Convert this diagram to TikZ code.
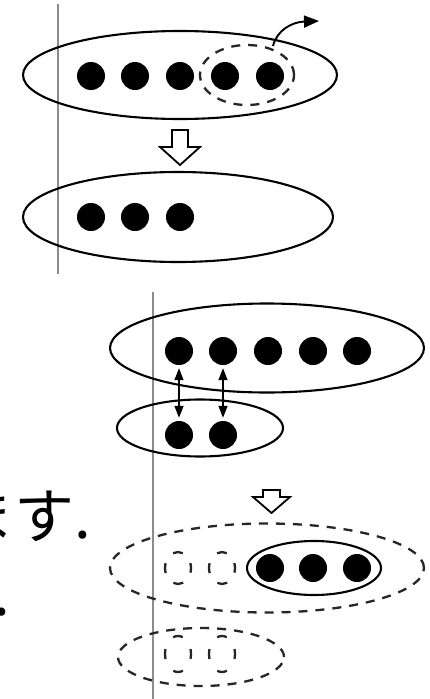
\documentclass[tikz,border=0pt]{standalone}
\usepackage{fontspec}
\newfontfamily\jpfont{Noto Sans CJK JP}
\usetikzlibrary{shapes.geometric,arrows.meta}
\tikzset{
  ell/.style={ellipse, draw=black, line width=2.1pt, inner sep=0pt},
  dashell/.style={ellipse, draw=black!85, line width=2.3pt, inner sep=0pt, dash pattern=on 9pt off 8pt},
  smallell/.style={ellipse, draw=black!85, line width=2.3pt, inner sep=0pt, dash pattern=on 10pt off 12.85pt, dash phase=5pt, minimum width=26pt, minimum height=32pt},
  smallellb/.style={smallell, minimum height=36pt, dash pattern=on 10pt off 14.5pt},
  dot/.style={circle, fill=black, inner sep=0pt, minimum size=28pt},
  hollow/.style={draw=black, line width=1.8pt, fill=white, line join=miter},
  rule/.style={draw=black!45, line width=1.8pt},
  dblarrow/.style={draw=black, line width=1.4pt, {Triangle[length=12pt,width=9pt]}-{Triangle[length=12pt,width=9pt]}, shorten <=3pt, shorten >=3pt},
  jptext/.style={font=\jpfont\fontsize{60}{72}\selectfont, inner sep=0pt, anchor=base west}
}
\begin{document}
\begin{tikzpicture}[x=1pt,y=-1pt]
\useasboundingbox (0,0) rectangle (430,699);
\fill[white] (0,0) rectangle (430,699);

% ---------- top panel ----------
\draw[rule] (58,4) -- (58,274);

\node[ell, minimum width=314pt, minimum height=88pt] (E1) at (180,75) {};
\node[dot] (a1) at (91,76) {};
\node[dot] (a2) at (135,76) {};
\node[dot] (a3) at (180,76) {};
\node[dot] (a4) at (225,76) {};
\node[dot] (a5) at (270,76) {};
\node[dashell, minimum width=94pt, minimum height=60pt] (D1) at (247,75) {};
\coordinate (out) at (319,21);
\draw[line width=1.9pt, -{Triangle[length=15pt,width=12pt]}] (273,46) .. controls (277,30) and (292,22) .. (out);

\draw[hollow] (172,130) -- (188,130) -- (188,147) -- (200,147) -- (180,165) -- (160,147) -- (172,147) -- cycle;

\node[ell, minimum width=310pt, minimum height=90pt] (E2) at (178,217) {};
\node[dot] (b1) at (91,217) {};
\node[dot] (b2) at (135,217) {};
\node[dot] (b3) at (180,217) {};

% ---------- bottom panel ----------
\draw[rule] (153,292) -- (153,699);

\node[ell, minimum width=314pt, minimum height=89pt] (E3) at (267,348) {};
\node[dot] (c1) at (179,351) {};
\node[dot] (c2) at (223,351) {};
\node[dot] (c3) at (268,351) {};
\node[dot] (c4) at (313,351) {};
\node[dot] (c5) at (357,351) {};

\node[ell, minimum width=166pt, minimum height=57pt] (E4) at (200,428) {};
\node[dot] (d1) at (179,435) {};
\node[dot] (d2) at (223,435) {};

\draw[dblarrow] (c1.south) -- (d1.north);
\draw[dblarrow] (c2.south) -- (d2.north);

\draw[hollow] (263,490) -- (280,490) -- (280,497) -- (290,497) -- (271.5,513) -- (253,497) -- (263,497) -- cycle;

\node[dashell, minimum width=314pt, minimum height=89pt] (E5) at (267,568) {};
\node[smallell] (g1) at (178,568) {};
\node[smallell] (g2) at (222,568) {};
\node[ell, minimum width=134pt, minimum height=54pt] (E6) at (314,568) {};
\node[dot] (e1) at (270,568) {};
\node[dot] (e2) at (313,568) {};
\node[dot] (e3) at (357,568) {};

\node[dashell, minimum width=166pt, minimum height=58pt] (E7) at (201,657) {};
\node[smallellb] (h1) at (178,654) {};
\node[smallellb] (h2) at (222,654) {};

% ---------- text ----------
\node[jptext] (t1) at (-46,538) {ます.};
\node[jptext] (t2) at (-7,615) {.};
\end{tikzpicture}
\end{document}
